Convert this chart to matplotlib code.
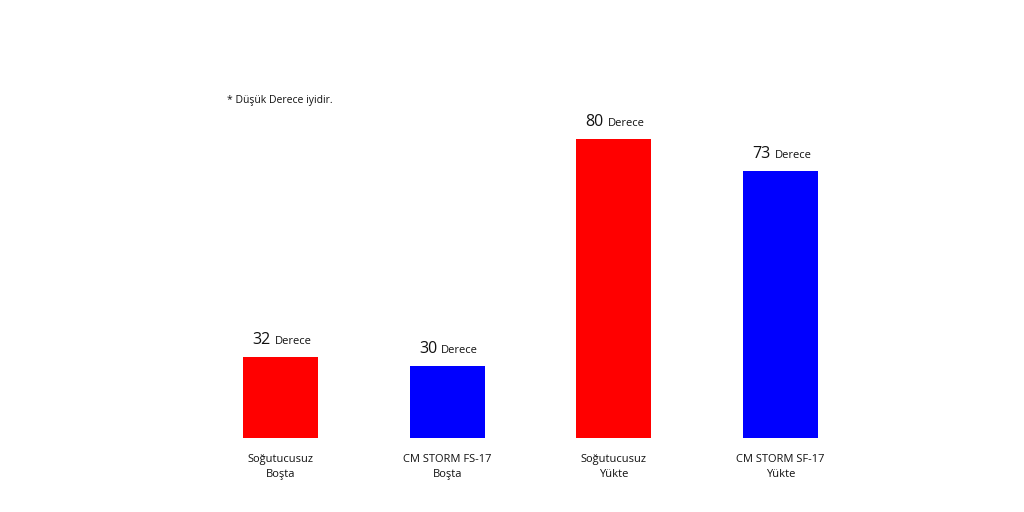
import matplotlib.pyplot as plt

plt.rcParams['font.family'] = ['Open Sans', 'DejaVu Sans']

# data
labels = ['Soğutucusuz\nBoşta', 'CM STORM FS-17\nBoşta', 'Soğutucusuz\nYükte', 'CM STORM SF-17\nYükte']
values = [32, 30, 80, 73]
colors = ['#ff0000', '#0000ff', '#ff0000', '#0000ff']
note = '* Düşük Derece iyidir.'

fig = plt.figure(figsize=(10.24, 5.12), dpi=100)
ax = fig.add_axes([0, 74 / 512, 1, 438 / 512])
xs = list(range(len(values)))
ax.bar(xs, values, width=0.45, color=colors)
ax.set_xlim(-1.683, 4.461)
ax.set_ylim(14.1, 110.7)
ax.axis('off')

for x, v, lab in zip(xs, values, labels):
    # value label: big number + small "Derece"
    ax.annotate(str(v), (x, v), xytext=(-10, 13), textcoords='offset pixels',
                ha='right', va='baseline', fontsize=11.5, color='#111111')
    ax.annotate('Derece', (x, v), xytext=(-6, 13), textcoords='offset pixels',
                ha='left', va='baseline', fontsize=8, color='#111111')
    ax.annotate(lab, (x, 14.1), xytext=(0, -16), textcoords='offset pixels',
                ha='center', va='top', fontsize=8, color='#111111', linespacing=1.45)

fig.text(227 / 1024, 1 - 101 / 512, note, ha='left', va='center', fontsize=7.5, color='#111111')

fig.savefig('out.png', dpi=100)
